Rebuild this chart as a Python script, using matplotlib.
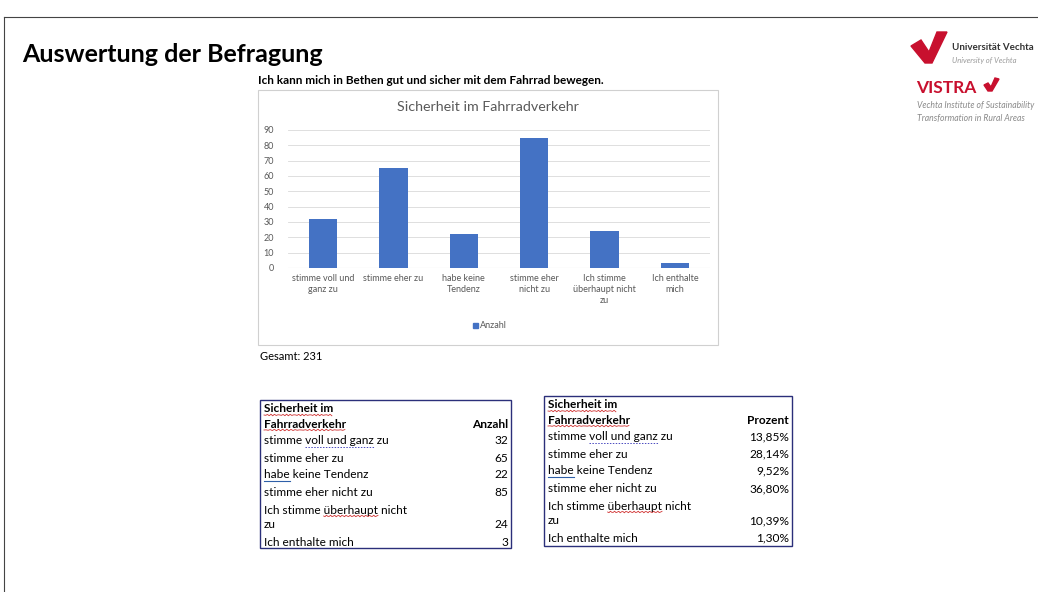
import numpy as np
import matplotlib.pyplot as plt
from matplotlib.patches import Rectangle, Polygon

plt.rcParams['font.family'] = ['Lato', 'DejaVu Sans']

categories = ["stimme voll und\nganz zu", "stimme eher zu", "habe keine\nTendenz",
              "stimme eher\nnicht zu", "Ich stimme\nüberhaupt nicht\nzu", "Ich enthalte\nmich"]
anzahl = [32, 65, 22, 85, 24, 3]
table_rows = ["stimme voll und ganz zu", "stimme eher zu", "habe keine Tendenz",
              "stimme eher nicht zu", "Ich stimme überhaupt nicht\nzu", "Ich enthalte mich"]
prozent = ["13,85%", "28,14%", "9,52%", "36,80%", "10,39%", "1,30%"]
gesamt = 231

W, H = 1038, 592
fig = plt.figure(figsize=(W / 100, H / 100), dpi=100)
renderer = fig.canvas.get_renderer()

# overlay axes in pixel coordinates
ov = fig.add_axes([0, 0, 1, 1])
ov.set_xlim(0, W)
ov.set_ylim(H, 0)
ov.axis("off")

# slide frame
ov.plot([4, W], [17, 17], color="#444444", lw=0.8)
ov.plot([4, 4], [17, H], color="#444444", lw=0.8)

ov.text(22, 54, "Auswertung der Befragung", fontsize=18, fontweight="bold", va="center", ha="left")
ov.text(258, 80, "Ich kann mich in Bethen gut und sicher mit dem Fahrrad bewegen.",
        fontsize=8.5, fontweight="bold", va="center", ha="left")

# chart frame
ov.add_patch(Rectangle((258, 90), 460, 255, fill=False, ec="#d0d0d0", lw=0.8))
ov.text(488, 107, "Sicherheit im Fahrradverkehr", fontsize=10.3, color="#595959", ha="center", va="center")
ov.add_patch(Rectangle((473, 323), 5, 5, color="#4472C4"))
ov.text(480, 326, "Anzahl", fontsize=6.5, color="#595959", ha="left", va="center")
ov.text(260, 356, f"Gesamt: {gesamt}", fontsize=8, ha="left", va="center")

# bar chart
ax = fig.add_axes([288 / W, 1 - 268 / H, (710 - 288) / W, (268 - 130) / H])
xs = list(range(len(categories)))
ax.bar(xs, anzahl, width=0.4, color="#4472C4", zorder=3)
ax.set_xlim(-0.5, len(categories) - 0.5)
ax.set_ylim(0, 90)
ax.set_yticks(range(0, 91, 10))
ax.set_xticks(xs)
ax.set_xticklabels(categories, fontsize=6.5, color="#595959", linespacing=1.35)
ax.tick_params(axis="y", labelsize=6.5, labelcolor="#595959", length=0, pad=10)
ax.tick_params(axis="x", length=0, pad=4)
ax.grid(axis="y", color="#d9d9d9", lw=0.6, zorder=0)
for s in ax.spines.values():
    s.set_visible(False)
ax.axhline(0, color="#d9d9d9", lw=0.8, zorder=2)
ax.patch.set_alpha(0)

FS = 8.6


def underline(x, y, full, word, color, style):
    # squiggle under 'word' inside the string 'full' drawn at (x, y)
    i = full.index(word)
    t1 = ov.text(x, y, full[:i], fontsize=FS, alpha=0)
    t2 = ov.text(x, y, full[:i + len(word)], fontsize=FS, alpha=0)
    a = t1.get_window_extent(renderer).width if i else 0
    b = t2.get_window_extent(renderer).width
    t1.remove()
    t2.remove()
    yy = y + 6
    if style == "wave":
        px = np.linspace(x + a, x + b, 40)
        ov.plot(px, yy + 0.8 * np.sin((px - px[0]) * 1.6), color=color, lw=0.6)
    elif style == "dash":
        ov.plot([x + a, x + b], [yy, yy], color=color, lw=0.7, ls=(0, (1.5, 1.5)))
    else:
        ov.plot([x + a, x + b], [yy, yy], color=color, lw=0.8)


def draw_table(x0, y0, x1, y1, header, values):
    ov.add_patch(Rectangle((x0, y0), x1 - x0, y1 - y0, fill=False, ec="#2b2f7a", lw=1.0))
    tx = x0 + 4
    rx = x1 - 3
    ov.text(tx, y0 + 9, "Sicherheit im", fontsize=FS, fontweight="bold", va="center")
    ov.text(tx, y0 + 24, "Fahrradverkehr", fontsize=FS, fontweight="bold", va="center")
    ov.text(rx, y0 + 24, header, fontsize=FS, fontweight="bold", va="center", ha="right")
    underline(tx, y0 + 9, "Sicherheit im", "Sicherheit im", "#d03030", "wave")
    underline(tx, y0 + 24, "Fahrradverkehr", "Fahrradverkehr", "#d03030", "wave")
    ys = [y0 + 41, y0 + 58, y0 + 75, y0 + 93, y0 + 110, y0 + 142]
    for i, (lab, val) in enumerate(zip(table_rows, values)):
        if "\n" in lab:
            a, b = lab.split("\n")
            ov.text(tx, ys[i], a, fontsize=FS, va="center")
            ov.text(tx, ys[i] + 15, b, fontsize=FS, va="center")
            ov.text(rx, ys[i] + 15, str(val), fontsize=FS, va="center", ha="right")
            underline(tx, ys[i], a, "überhaupt", "#d03030", "wave")
        else:
            ov.text(tx, ys[i], lab, fontsize=FS, va="center")
            ov.text(rx, ys[i], str(val), fontsize=FS, va="center", ha="right")
    underline(tx, ys[0], table_rows[0], "voll und ganz", "#4a4ac0", "dash")
    underline(tx, ys[2], table_rows[2], "habe", "#2e5fa8", "line")


draw_table(260, 400, 511, 548, "Anzahl", anzahl)
draw_table(544, 396, 792, 546, "Prozent", prozent)

# logos
red = "#c8102e"
ov.add_patch(Polygon([(911, 46), (921, 40), (929, 52), (937, 32), (947, 32), (932, 63), (925, 63)],
                     closed=True, color=red))
ov.text(952, 48, "Universität Vechta", fontsize=7, fontweight="bold", color="#333333", va="center")
ov.text(952, 61, "University of Vechta", fontsize=5.5, style="italic", color="#9a9a9a", va="center")
ov.text(916, 88, "VISTRA", fontsize=12.5, fontweight="bold", color=red, va="center")
ov.add_patch(Polygon([(984, 85), (988, 83), (991, 87), (995, 78), (999, 79), (992, 91), (988, 91)],
                     closed=True, color=red))
ov.text(917, 106, "Vechta Institute of Sustainability", fontsize=6.2, style="italic", color="#8a8a8a", va="center")
ov.text(917, 118, "Transformation in Rural Areas", fontsize=6.2, style="italic", color="#8a8a8a", va="center")

fig.savefig("out.png", dpi=100)
